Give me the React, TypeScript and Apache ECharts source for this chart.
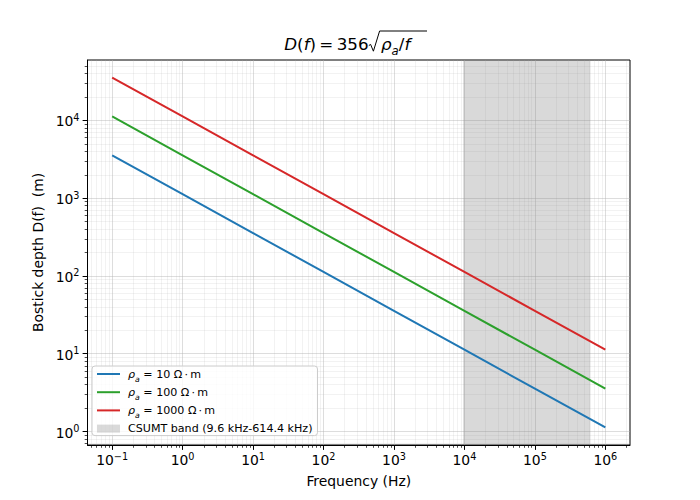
import React, { useEffect, useRef } from 'react';
import * as echarts from 'echarts';

// Frequencies (Hz) and Bostick depths (m)
const freqs = [0.1, 1, 10, 100, 1000, 10000, 100000, 1000000];
const depthRho10 = [3560, 1126, 356, 112.6, 35.6, 11.26, 3.56, 1.126];
const depthRho100 = [11258, 3560, 1126, 356, 112.6, 35.6, 11.26, 3.56];
const depthRho1000 = [35600, 11258, 3560, 1126, 356, 112.6, 35.6, 11.26];

const seriesNames = ['ρa = 10 Ω\u2009·\u2009m', 'ρa = 100 Ω\u2009·\u2009m', 'ρa = 1000 Ω\u2009·\u2009m'];
const bandName = 'CSUMT band (9.6 kHz-614.4 kHz)';
const bandRange = [9600, 614400];

const xMajorTicks = [0.1, 1, 10, 100, 1000, 10000, 100000, 1000000];
const yMajorTicks = [1, 10, 100, 1000, 10000];

const X_MIN = Math.pow(10, -1.35);
const X_MAX = Math.pow(10, 6.35);
const Y_MIN = Math.pow(10, -0.1735);
const Y_MAX = Math.pow(10, 4.7765);

function minorTicks(lo: number, hi: number) {
  const out: number[] = [];
  for (let d = -3; d <= 7; d++) {
    for (let m = 2; m <= 9; m++) {
      const v = m * Math.pow(10, d);
      if (v > lo && v < hi) out.push(v);
    }
  }
  return out;
}

const FONT = 'DejaVu Sans';
const BLUE = '#1f77b4';
const GREEN = '#2ca02c';
const RED = '#d62728';
const LINE_ICON = 'path://M0,0H115V10H0Z';

function pairs(ys: number[]) {
  return freqs.map((f, i) => [f, ys[i]]);
}

function powLabel(v: number) {
  const e = Math.round(Math.log10(v));
  const s = e < 0 ? '−' + -e : String(e);
  return '{b|10}{s|' + s + '}';
}

const tickRich = {
  b: { fontSize: 13.9, fontFamily: FONT, color: '#000', verticalAlign: 'bottom' },
  s: { fontSize: 9.7, fontFamily: FONT, color: '#000', verticalAlign: 'bottom', padding: [0, 0, 6, 0] },
};

const majorGrid = { show: true, lineStyle: { color: '#b0b0b0', width: 0.8, opacity: 0.55 } };
const minorGrid = { show: true, lineStyle: { color: '#b0b0b0', width: 0.6, opacity: 0.28 } };

const titleRich = {
  n: { fontFamily: FONT, fontSize: 16.7, color: '#000', verticalAlign: 'bottom' },
  it: { fontFamily: FONT, fontSize: 16.7, fontStyle: 'italic', color: '#000', verticalAlign: 'bottom' },
  sub: { fontFamily: FONT, fontSize: 11.7, fontStyle: 'italic', color: '#000', verticalAlign: 'bottom', padding: [0, 0, -4, 0] },
};

export default function App() {
  const ref = useRef<HTMLDivElement>(null);
  useEffect(() => {
    const chart = echarts.init(ref.current!, null, { renderer: 'svg' });
    const option: any = {
      animation: false,
      backgroundColor: '#ffffff',
      textStyle: { fontFamily: FONT },
      grid: {
        left: 87.5,
        top: 60,
        width: 542.5,
        height: 385,
        show: true,
        borderColor: '#000',
        borderWidth: 1,
        backgroundColor: 'transparent',
        containLabel: false,
      },
      legend: {
        orient: 'vertical',
        left: 92,
        top: 366,
        padding: [2, 5, 1, 5],
        itemGap: 3.2,
        itemWidth: 23,
        itemHeight: 8,
        backgroundColor: 'rgba(255,255,255,0.8)',
        borderColor: '#cccccc',
        borderWidth: 1,
        borderRadius: 3,
        textStyle: {
          fontFamily: FONT,
          fontSize: 11.1,
          color: '#000',
          lineHeight: 12,
          padding: [0, 0, 0, 3],
          rich: {
            i: { fontFamily: FONT, fontSize: 11.1, fontStyle: 'italic', color: '#000', lineHeight: 12 },
            sub: { fontFamily: FONT, fontSize: 7.8, fontStyle: 'italic', color: '#000', lineHeight: 12, verticalAlign: 'bottom', padding: [0, 0, -3, 0] },
          },
        },
        formatter: (name: string) =>
          name.startsWith('ρa') ? '{i|ρ}{sub|a}' + name.slice(2) : name,
        data: [
          { name: seriesNames[0], icon: LINE_ICON },
          { name: seriesNames[1], icon: LINE_ICON },
          { name: seriesNames[2], icon: LINE_ICON },
          { name: bandName, icon: 'rect', itemStyle: { color: 'rgba(128,128,128,0.3)' } },
        ],
      },
      xAxis: [
        {
          type: 'log',
          logBase: 10,
          min: X_MIN,
          max: X_MAX,
          position: 'bottom',
          name: 'Frequency (Hz)',
          nameLocation: 'middle',
          nameGap: 29,
          nameTextStyle: { fontFamily: FONT, fontSize: 13.9, color: '#000' },
          axisLine: { show: true, lineStyle: { color: '#000', width: 1 } },
          axisTick: { show: true, length: 4.9, lineStyle: { color: '#000', width: 1 }, customValues: xMajorTicks },
          axisLabel: { show: true, margin: 6, customValues: xMajorTicks, formatter: powLabel, rich: tickRich },
          splitLine: majorGrid,
        },
        {
          type: 'log',
          logBase: 10,
          min: X_MIN,
          max: X_MAX,
          position: 'bottom',
          axisLine: { show: false },
          axisTick: { show: true, length: 2.8, lineStyle: { color: '#000', width: 0.7 }, customValues: minorTicks(X_MIN, X_MAX) },
          axisLabel: { show: false },
          splitLine: minorGrid,
        },
      ],
      yAxis: [
        {
          type: 'log',
          logBase: 10,
          min: Y_MIN,
          max: Y_MAX,
          position: 'left',
          name: 'Bostick depth D(f)  (m)',
          nameLocation: 'middle',
          nameGap: 34,
          nameRotate: 90,
          nameTextStyle: { fontFamily: FONT, fontSize: 13.9, color: '#000' },
          axisLine: { show: true, lineStyle: { color: '#000', width: 1 } },
          axisTick: { show: true, length: 4.9, lineStyle: { color: '#000', width: 1 }, customValues: yMajorTicks },
          axisLabel: { show: true, margin: 8, customValues: yMajorTicks, formatter: powLabel, rich: tickRich },
          splitLine: majorGrid,
        },
        {
          type: 'log',
          logBase: 10,
          min: Y_MIN,
          max: Y_MAX,
          position: 'left',
          axisLine: { show: false },
          axisTick: { show: true, length: 2.8, lineStyle: { color: '#000', width: 0.7 }, customValues: minorTicks(Y_MIN, Y_MAX) },
          axisLabel: { show: false },
          splitLine: minorGrid,
        },
      ],
      series: [
        {
          name: bandName,
          type: 'line',
          data: [],
          itemStyle: { color: 'rgba(128,128,128,0.3)' },
          markArea: {
            silent: true,
            itemStyle: { color: 'rgba(128,128,128,0.3)' },
            data: [[{ xAxis: bandRange[0] }, { xAxis: bandRange[1] }]],
          },
        },
        {
          name: seriesNames[0],
          type: 'line',
          showSymbol: false,
          symbol: 'none',
          data: pairs(depthRho10),
          lineStyle: { color: BLUE, width: 2 },
          itemStyle: { color: BLUE },
        },
        {
          name: seriesNames[1],
          type: 'line',
          showSymbol: false,
          symbol: 'none',
          data: pairs(depthRho100),
          lineStyle: { color: GREEN, width: 2 },
          itemStyle: { color: GREEN },
        },
        {
          name: seriesNames[2],
          type: 'line',
          showSymbol: false,
          symbol: 'none',
          data: pairs(depthRho1000),
          lineStyle: { color: RED, width: 2 },
          itemStyle: { color: RED },
        },
      ],
      graphic: [
        {
          type: 'text',
          x: 368.5,
          y: 44,
          style: {
            text: '{it|D}{n|(}{it|f}{n|)\u2009=\u2009356}',
            rich: titleRich,
            align: 'right',
            verticalAlign: 'middle',
            fill: '#000',
          },
        },
        {
          type: 'text',
          x: 381,
          y: 44,
          style: {
            text: '{it|ρ}{sub|a}{n|/}{it|f}',
            rich: titleRich,
            align: 'left',
            verticalAlign: 'middle',
            fill: '#000',
          },
        },
        {
          type: 'polyline',
          shape: { points: [[368.8, 45.6], [370.6, 44.4], [373.4, 51.2], [379.6, 31], [427, 31]] },
          style: { stroke: '#000', lineWidth: 1, fill: null },
        },
      ],
    };
    chart.setOption(option);
    return () => chart.dispose();
  }, []);
  return (
    <div
      ref={ref}
      style={{ position: 'fixed', left: 0, top: 0, width: 700, height: 500, background: '#fff' }}
    />
  );
}
